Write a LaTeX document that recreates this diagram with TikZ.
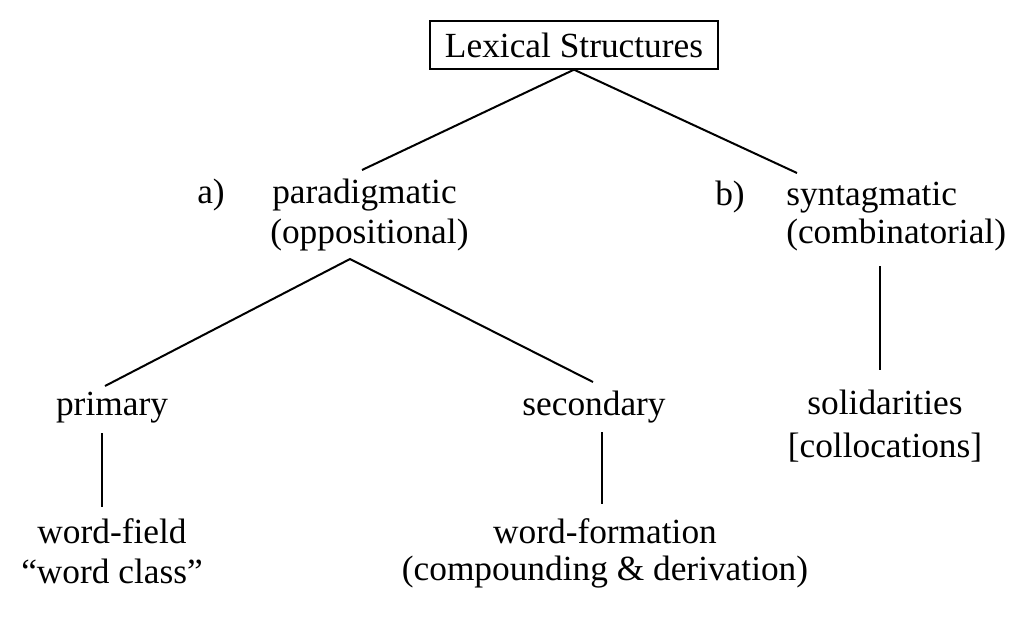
\documentclass[tikz,border=0pt]{standalone}
\usepackage{fontspec}
\setmainfont{Liberation Serif}
\begin{document}
\begin{tikzpicture}[x=0.75pt,y=-0.75pt,
  txt/.style={font=\fontsize{26.5}{30}\selectfont, inner sep=0pt},
  rootbox/.style={txt, draw, line width=1pt, minimum width=216pt, minimum height=36pt},
  branch/.style={line width=1.5pt},
  stem/.style={line width=1pt}]
\useasboundingbox (0,0) rectangle (1021,618);
% root
\node[rootbox] (lex) at (574,45) {Lexical Structures};
% level 1
\node[txt, anchor=base west] (la) at (197,203) {a)};
\node[txt, anchor=base west] (para) at (272,203) {paradigmatic};
\node[txt, anchor=base west] (para2) at (270,243) {(oppositional)};
\node[txt, anchor=base west] (lb) at (715,205) {b)};
\node[txt, anchor=base west] (syn) at (786,205) {syntagmatic};
\node[txt, anchor=base west] (syn2) at (786,243) {(combinatorial)};
% level 2
\node[txt, anchor=base] (prim) at (112,415) {primary};
\node[txt, anchor=base] (sec) at (594,415) {secondary};
\node[txt, anchor=base] (sol) at (885,414) {solidarities};
\node[txt, anchor=base] (sol2) at (885,457) {[collocations]};
% level 3
\node[txt, anchor=base] (wf) at (112,543) {word-field};
\node[txt, anchor=base] (wf2) at (112,583) {“word class”};
\node[txt, anchor=base] (wform) at (605,543) {word-formation};
\node[txt, anchor=base] (wform2) at (605,580) {(compounding \& derivation)};
% connector end points
\coordinate (paraIn) at (362,170);
\coordinate (synIn) at (797,173);
\coordinate (paraOut) at (350,259);
\coordinate (primIn) at (105,386);
\coordinate (secIn) at (593,382);
\coordinate (primOut) at (102,433);
\coordinate (wfIn) at (102,507);
\coordinate (secOut) at (602,432);
\coordinate (wformIn) at (602,504);
\coordinate (synOut) at (880,266);
\coordinate (solIn) at (880,370);
% connectors
\draw[branch] (paraIn) -- (lex.south) -- (synIn);
\draw[branch] (primIn) -- (paraOut) -- (secIn);
\draw[stem] (primOut) -- (wfIn);
\draw[stem] (secOut) -- (wformIn);
\draw[stem] (synOut) -- (solIn);
\end{tikzpicture}
\end{document}
